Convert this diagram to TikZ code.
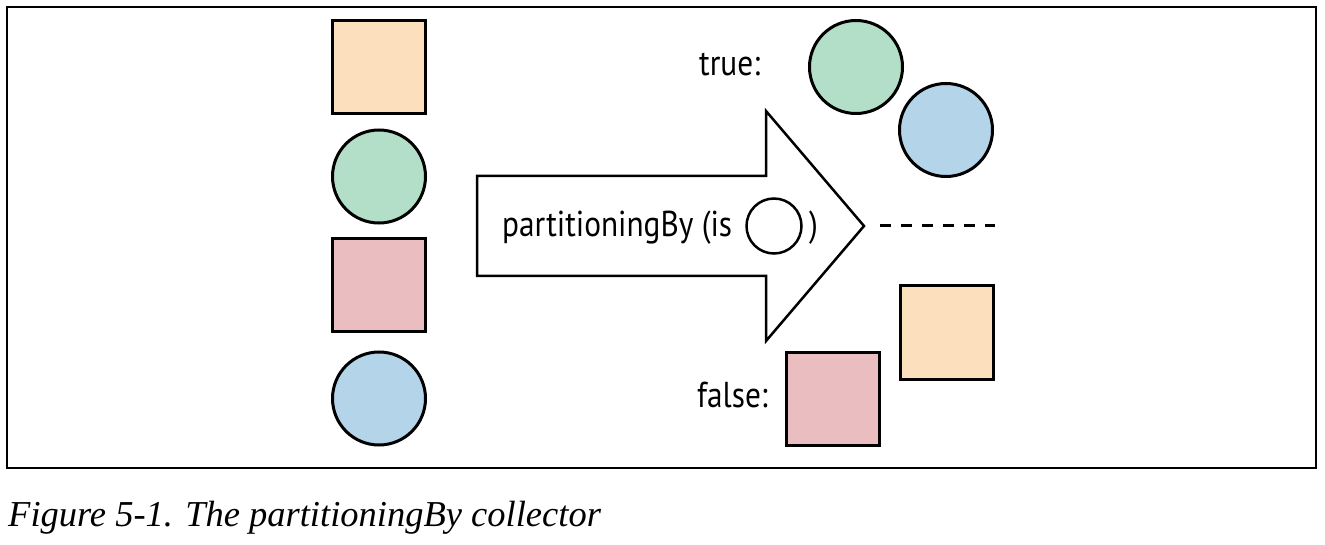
\documentclass[tikz,border=0pt]{standalone}
\usepackage{fontspec}
\newfontfamily\figfont{PT Sans}[FakeStretch=0.87]
\newfontfamily\capfont{Liberation Serif}

\definecolor{peach}{RGB}{252,224,189}
\definecolor{mint}{RGB}{179,223,200}
\definecolor{rose}{RGB}{234,190,192}
\definecolor{sky}{RGB}{179,212,233}

\tikzset{
  item box/.style={draw, line width=3pt, minimum size=93pt, inner sep=0pt},
  item ball/.style={draw, circle, line width=3pt, minimum size=93pt, inner sep=0pt},
  fig text/.style={font=\figfont\fontsize{36}{42}\selectfont, inner sep=0pt}
}

\begin{document}
\begin{tikzpicture}[x=1pt, y=-1pt]
  \useasboundingbox (0,0) rectangle (1325,545);

  %% frame
  \draw [line width=1.5pt] (7,7) rectangle (1316,468);

  %% stream of elements
  \foreach \shp/\col/\y [count=\i] in {box/peach/67.5, ball/mint/176.5, box/rose/285, ball/sky/398.5}
    \node [item \shp, fill=\col] (in\i) at (379,\y) {};

  %% the collector arrow
  \draw [line width=2.5pt, miter limit=10] (477,176) -- (766,176) -- (766,111) -- (864,226)
    -- (766,341) -- (766,276) -- (477,276) -- cycle;
  \node [fig text, anchor=base west] (call) at (502,237) {partitioningBy (is};
  \node [draw, circle, line width=2.5pt, minimum size=55pt, inner sep=0pt] (pred) at (774,226) {};
  \node [fig text, anchor=base west] (close) at (809,237) {)};

  %% split line
  \coordinate (split a) at (880,226);
  \coordinate (split b) at (995,226);
  \draw [line width=3pt, dash pattern=on 11pt off 10pt] (split a) -- (split b);

  %% true part
  \node [fig text, anchor=base west] (yes) at (699,76) {true:};
  \node [item ball, fill=mint] (yes1) at (856,67) {};
  \node [item ball, fill=sky] (yes2) at (946,130) {};

  %% false part
  \node [fig text, anchor=base west] (no) at (697,407) {false:};
  \node [item box, fill=peach] (no1) at (947,332.5) {};
  \node [item box, fill=rose] (no2) at (833,398.5) {};

  %% caption
  \node [anchor=base west, inner sep=0pt, font=\capfont\itshape\fontsize{36.5}{42}\selectfont] (caption) at (8,526)
    {Figure 5-1. The partitioningBy collector};
\end{tikzpicture}
\end{document}
